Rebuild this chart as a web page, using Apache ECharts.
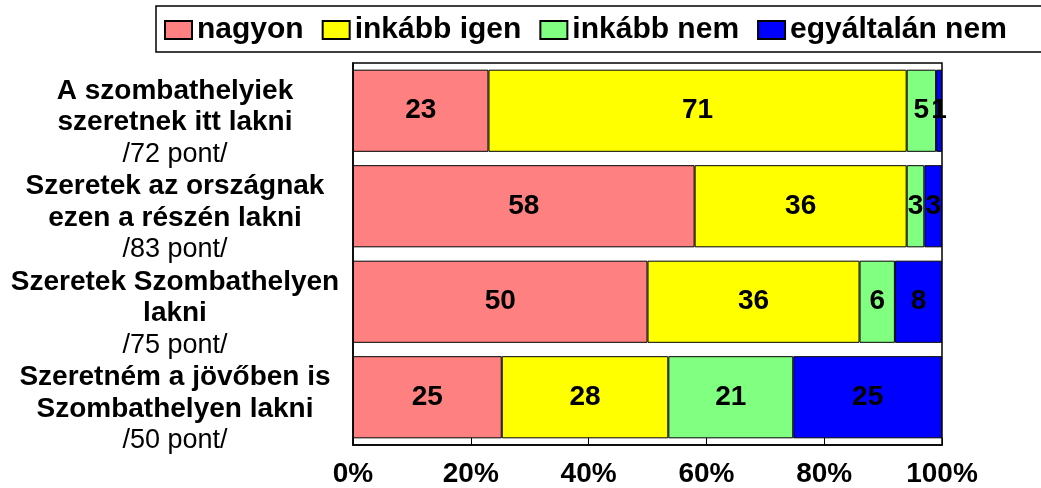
<!DOCTYPE html>
<html>
<head>
<meta charset="utf-8">
<script src="https://cdn.jsdelivr.net/npm/echarts@6/dist/echarts.min.js"></script>
<style>
  html, body { margin: 0; padding: 0; background: #fff; }
  #chart { width: 1041px; height: 488px; }
</style>
</head>
<body>
<div id="chart"></div>
<script>
// Survey statements (top to bottom) and their score
const categories = [
  'A szombathelyiek\nszeretnek itt lakni',
  'Szeretek az országnak\nezen a részén lakni',
  'Szeretek Szombathelyen\nlakni',
  'Szeretném a jövőben is\nSzombathelyen lakni'
];
const points = [72, 83, 75, 50];

// Answer shares per statement
const seriesNames = ['nagyon', 'inkább igen', 'inkább nem', 'egyáltalán nem'];
const nagyon = [23, 58, 50, 25];
const inkabbIgen = [71, 36, 36, 28];
const inkabbNem = [5, 3, 6, 21];
const egyaltalanNem = [1, 3, 8, 25];
const colors = ['#FF8080', '#FFFF00', '#80FF80', '#0000FF'];

const xTicks = [0, 20, 40, 60, 80, 100];

const FONT = '"Liberation Sans", Arial, sans-serif';

const raw = [nagyon, inkabbIgen, inkabbNem, egyaltalanNem];
const totals = categories.map((_, i) => raw.reduce((s, arr) => s + arr[i], 0));

const series = raw.map((arr, k) => ({
  name: seriesNames[k],
  type: 'bar',
  stack: 'total',
  barCategoryGap: '14%',
  itemStyle: { color: colors[k], borderColor: '#000', borderWidth: 1 },
  label: {
    show: true,
    position: 'inside',
    color: '#000',
    fontFamily: FONT,
    fontWeight: 'bold',
    fontSize: 28,
    textBorderWidth: 0,
    formatter: p => String(arr[p.dataIndex])
  },
  data: arr.map((v, i) => v / totals[i] * 100)
}));

const chart = echarts.init(document.getElementById('chart'), null, { renderer: 'canvas' });
chart.setOption({
  animation: false,
  backgroundColor: '#fff',
  legend: {
    left: 156,
    top: 6,
    width: 1000,
    padding: [9, 60, 7, 8],
    itemGap: 18,
    itemWidth: 27,
    itemHeight: 18,
    icon: 'rect',
    borderColor: '#000',
    borderWidth: 1.5,
    textStyle: { color: '#000', fontFamily: FONT, fontWeight: 'bold', fontSize: 30 },
    data: seriesNames
  },
  grid: {
    left: 353, right: 99, top: 63, bottom: 42,
    show: true, borderColor: '#000', borderWidth: 1.5
  },
  xAxis: {
    type: 'value',
    min: 0, max: 100, interval: 20,
    axisLine: { show: true, lineStyle: { color: '#000', width: 1.5 } },
    axisTick: { show: true, inside: true, length: 7, lineStyle: { color: '#000' } },
    splitLine: { show: false },
    axisLabel: {
      color: '#000', fontFamily: FONT, fontWeight: 'bold', fontSize: 28, margin: 15,
      formatter: v => xTicks.includes(v) ? v + '%' : ''
    }
  },
  yAxis: {
    type: 'category',
    inverse: true,
    data: categories,
    axisLine: { show: true, lineStyle: { color: '#000', width: 1.5 } },
    axisTick: { show: false },
    axisLabel: {
      margin: 178,
      align: 'center',
      padding: [24, 0, 0, 0],
      formatter: (v, i) => v.split('\n').map(l => '{b|' + l + '}').join('\n') + '\n{n|/' + points[i] + ' pont/}',
      rich: {
        b: { color: '#000', fontFamily: FONT, fontWeight: 'bold', fontSize: 28, lineHeight: 31.5, align: 'center' },
        n: { color: '#000', fontFamily: FONT, fontWeight: 'normal', fontSize: 27, lineHeight: 31.5, align: 'center' }
      }
    }
  },
  series: series
});
</script>
</body>
</html>
